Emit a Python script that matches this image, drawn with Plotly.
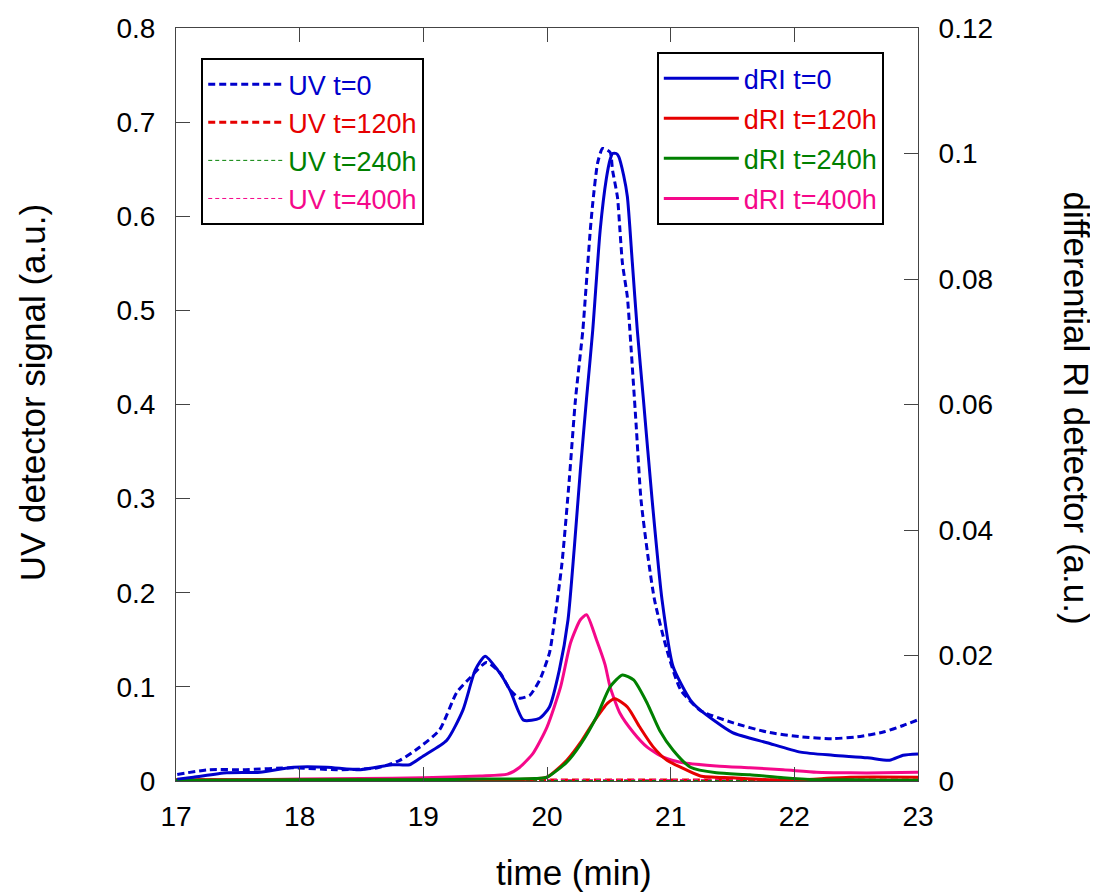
import plotly.graph_objects as go

BLUE = "#0000cc"
RED = "#e60000"
GREEN = "#008000"
PINK = "#f5088a"
FONT = "Liberation Sans, Arial, sans-serif"

# UV detector (left axis)
uv0_t = [17.01, 17.27, 17.54, 17.95, 18.30, 18.63, 18.81, 18.95, 19.13, 19.27, 19.38, 19.51,
         19.62, 19.70, 19.78, 19.86, 19.94, 20.02, 20.05, 20.12, 20.18, 20.23, 20.29, 20.31, 20.35, 20.37,
         20.41, 20.45, 20.51, 20.53, 20.57, 20.59, 20.61, 20.65, 20.67, 20.72, 20.76, 20.82, 20.87, 20.97,
         21.08, 21.24, 21.50, 21.78, 22.05, 22.31, 22.51, 22.72, 22.88, 23.0]
uv0_v = [0.007, 0.012, 0.012, 0.014, 0.012, 0.014, 0.022, 0.034, 0.054, 0.094, 0.110, 0.126,
         0.115, 0.097, 0.088, 0.091, 0.107, 0.136, 0.160, 0.230, 0.320, 0.405, 0.479, 0.514, 0.585, 0.614,
         0.657, 0.672, 0.668, 0.649, 0.620, 0.585, 0.550, 0.514, 0.479, 0.380, 0.299, 0.235, 0.192, 0.139,
         0.097, 0.075, 0.062, 0.052, 0.047, 0.045, 0.047, 0.052, 0.059, 0.065]
uv_flat_t = [17.0, 18.0, 19.0, 20.0, 21.0, 22.0, 23.0]
uv120_v = [0.001, 0.001, 0.001, 0.001, 0.001, 0.001, 0.001]
uv240_v = [0.0005, 0.0005, 0.0005, 0.0005, 0.0005, 0.0005, 0.0005]
uv400_v = [0.0015, 0.0015, 0.0015, 0.0015, 0.0015, 0.0015, 0.0015]

# dRI detector (right axis)
ri0_t = [17.01, 17.14, 17.41, 17.68, 17.95, 18.22, 18.49, 18.75, 18.89, 19.00, 19.19, 19.32,
         19.42, 19.50, 19.60, 19.70, 19.81, 19.94, 20.02, 20.10, 20.17, 20.22, 20.27, 20.32, 20.37, 20.43,
         20.48, 20.51, 20.53, 20.56, 20.58, 20.62, 20.65, 20.69, 20.73, 20.78, 20.85, 20.93, 21.02, 21.16,
         21.24, 21.50, 21.78, 22.05, 22.31, 22.59, 22.77, 22.88, 23.0]
ri0_v = [0.0003, 0.0006, 0.0013, 0.0014, 0.0022, 0.0022, 0.0018, 0.0026, 0.0026, 0.0040, 0.0065, 0.0113,
         0.0177, 0.0199, 0.0177, 0.0145, 0.0097, 0.0100, 0.0118, 0.0177, 0.0257, 0.0370, 0.0496, 0.0610, 0.0719, 0.0878,
         0.0960, 0.0990, 0.1000, 0.1000, 0.0995, 0.0965, 0.0931, 0.0826, 0.0719, 0.0607, 0.0448, 0.0289, 0.0182, 0.0129,
         0.0113, 0.0077, 0.0061, 0.0046, 0.0041, 0.0037, 0.0033, 0.0041, 0.0043]

ri120_t = [17.0, 18.0, 19.0, 19.6, 19.86, 20.00, 20.16, 20.27, 20.37, 20.49, 20.55, 20.65,
           20.75, 20.86, 20.97, 21.08, 21.24, 21.50, 21.91, 22.45, 23.0]
ri120_v = [0.0002, 0.0002, 0.0002, 0.0001, 0.0003, 0.0006, 0.0033, 0.0061, 0.0092, 0.0124, 0.0131, 0.0118,
           0.0086, 0.0054, 0.0033, 0.0022, 0.0008, 0.0005, 0.0001, 0.0006, 0.0006]

ri240_t = [17.0, 18.0, 19.0, 19.5, 19.9, 20.00, 20.16, 20.27, 20.40, 20.51, 20.61, 20.70,
           20.81, 20.91, 21.02, 21.16, 21.37, 21.64, 21.91, 22.18, 22.45, 22.72, 23.0]
ri240_v = [0.0001, 0.0002, 0.0002, 0.0003, 0.0004, 0.0006, 0.0030, 0.0058, 0.0102, 0.0150, 0.0169, 0.0161,
           0.0124, 0.0081, 0.0049, 0.0022, 0.0013, 0.0010, 0.0005, 0.0002, 0.0002, 0.0001, 0.0001]

ri400_t = [17.0, 17.5, 18.0, 18.5, 19.00, 19.46, 19.68, 19.78, 19.89, 20.00, 20.11, 20.19,
           20.27, 20.32, 20.40, 20.47, 20.51, 20.59, 20.70, 20.81, 20.94, 21.10, 21.37, 21.64,
           21.91, 22.18, 22.45, 22.72, 23.0]
ri400_v = [0.0001, 0.0002, 0.0003, 0.0004, 0.0005, 0.0008, 0.0011, 0.0022, 0.0045, 0.0086, 0.0150, 0.0220,
           0.0257, 0.0265, 0.0225, 0.0185, 0.0150, 0.0108, 0.0077, 0.0054, 0.0038, 0.0029, 0.0024, 0.0021,
           0.0018, 0.0014, 0.0013, 0.0013, 0.0014]


def label(text, color):
    return f"<span style='color:{color}'>{text}</span>"


fig = go.Figure()

uv_traces = [
    (uv0_t, uv0_v, "UV t=0", BLUE, 3, "7px,4px"),
    (uv_flat_t, uv120_v, "UV t=120h", RED, 3, "7px,4px"),
    (uv_flat_t, uv240_v, "UV t=240h", GREEN, 1, "4px,3px"),
    (uv_flat_t, uv400_v, "UV t=400h", PINK, 1, "4px,3px"),
]
for i, (t, v, name, color, w, dash) in enumerate(uv_traces):
    fig.add_trace(go.Scatter(
        x=t, y=v, mode="lines", name=label(name, color), legend="legend",
        legendgroup=f"uv{i}", line=dict(color=color, width=w, dash=dash, shape="spline", smoothing=0.6),
    ))

ri_traces = [
    (ri400_t, ri400_v, "dRI t=400h", PINK),
    (ri120_t, ri120_v, "dRI t=120h", RED),
    (ri240_t, ri240_v, "dRI t=240h", GREEN),
    (ri0_t, ri0_v, "dRI t=0", BLUE),
]
order = {"dRI t=0": 1, "dRI t=120h": 2, "dRI t=240h": 3, "dRI t=400h": 4}
for t, v, name, color in ri_traces:
    fig.add_trace(go.Scatter(
        x=t, y=v, mode="lines", name=label(name, color), legend="legend2", yaxis="y2",
        legendgroup=name, legendrank=order[name],
        line=dict(color=color, width=3, shape="spline", smoothing=0.6),
    ))

legend_style = dict(
    bgcolor="white", bordercolor="black", borderwidth=2,
    font=dict(family=FONT, size=27),
    xanchor="left", yanchor="top", itemwidth=75,
)

axis_common = dict(
    showgrid=False, zeroline=False, showline=True, linecolor="#444", linewidth=1,
    ticks="inside", ticklen=14, tickcolor="#444", automargin=False,
    tickfont=dict(family=FONT, size=28, color="black"),
)

# page body adds an 8px offset, so margins are shifted to keep the plot box at 176..918 x 28..781
fig.update_layout(
    width=1098, height=895,
    margin=dict(l=168, r=188, t=20, b=122, autoexpand=False),
    paper_bgcolor="white", plot_bgcolor="white",
    font=dict(family=FONT, size=28, color="black"),
    legend=dict(x=0.034, y=0.96, tracegroupgap=0, **legend_style),
    legend2=dict(x=0.648, y=0.968, tracegroupgap=2, **legend_style),
    xaxis=dict(range=[17, 23], dtick=1, mirror="ticks", ticklabelstandoff=10, **axis_common),
    yaxis=dict(range=[0, 0.8], dtick=0.1, ticklabelstandoff=14, **axis_common),
    yaxis2=dict(range=[0, 0.12], dtick=0.02, overlaying="y", side="right",
                ticklabelstandoff=14, **axis_common),
    showlegend=True,
)

title_font = dict(family=FONT, size=35, color="black")
fig.add_annotation(
    text="time (min)", showarrow=False, xref="paper", yref="paper",
    x=0.536, y=-0.121, xanchor="center", yanchor="middle", font=title_font,
)
fig.add_annotation(
    text="UV detector signal (a.u.)", textangle=-90, showarrow=False,
    xref="paper", yref="paper", x=-0.194, y=0.515, xanchor="center", yanchor="middle",
    font=title_font,
)
fig.add_annotation(
    text="differential RI detector (a.u.)", textangle=90, showarrow=False,
    xref="paper", yref="paper", x=1.214, y=0.495, xanchor="center", yanchor="middle",
    font=title_font,
)

fig.write_html("out.html")
